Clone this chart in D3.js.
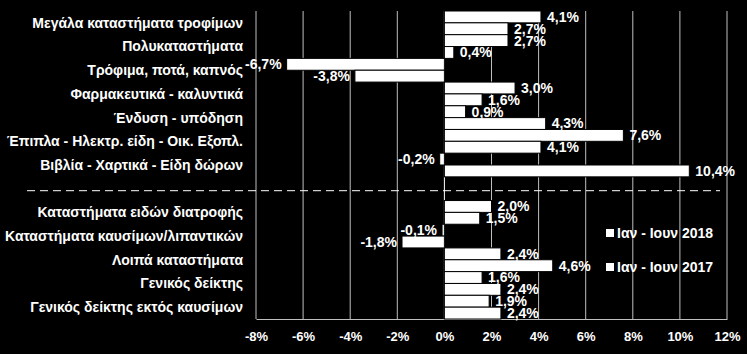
<!DOCTYPE html>
<meta charset="utf-8">
<head>
  <meta charset="UTF-8" />
  <title>Λιανικό εμπόριο</title>
  <script src="https://d3js.org/d3.v7.min.js"></script>
</head>
<style>
  body { margin: 0; background: #000; }
  text { font-family: "Liberation Sans", Arial, sans-serif; font-weight: bold; fill: #fff; }
</style>
<body>
<div id="chart"></div>
<script>
  // categories, "" is the empty slot under the dashed separator
  var categories = [
    "Μεγάλα καταστήματα τροφίμων",
    "Πολυκαταστήματα",
    "Τρόφιμα, ποτά, καπνός",
    "Φαρμακευτικά - καλυντικά",
    "Ένδυση - υπόδηση",
    "Έπιπλα - Ηλεκτρ. είδη - Οικ. Εξοπλ.",
    "Βιβλία - Χαρτικά - Είδη δώρων",
    "",
    "Καταστήματα ειδών διατροφής",
    "Καταστήματα καυσίμων/λιπαντικών",
    "Λοιπά καταστήματα",
    "Γενικός δείκτης",
    "Γενικός δείκτης εκτός καυσίμων"
  ]
  var series = ["Ιαν - Ιουν 2018", "Ιαν - Ιουν 2017"]
  var values2018 = [4.1, 2.7, -6.7, 3.0, 0.9, 7.6, -0.2, null, 2.0, -0.1, 2.4, 1.6, 1.9]
  var values2017 = [2.7, 0.4, -3.8, 1.6, 4.3, 4.1, 10.4, null, 1.5, -1.8, 4.6, 2.4, 2.4]
  var ticks = [-8, -6, -4, -2, 0, 2, 4, 6, 8, 10, 12]

  var width = 747, height = 354
  var margin = {top: 11, right: 20, bottom: 35, left: 256}

  var svg = d3.select("#chart").append("svg")
    .attr("width", width)
    .attr("height", height)

  var x = d3.scaleLinear().domain([-8, 12]).range([margin.left, 727])
  var y = d3.scaleBand().domain(d3.range(categories.length)).range([margin.top, height - margin.bottom]).padding(0)
  var ySub = d3.scaleBand().domain(series).range([0, y.bandwidth()])

  // gridlines
  svg.append("g")
    .selectAll("line")
    .data(ticks)
    .join("line")
      .attr("x1", d => x(d))
      .attr("x2", d => x(d))
      .attr("y1", margin.top)
      .attr("y2", height - margin.bottom)
      .attr("stroke", d => d == 0 ? "#ffffff" : "#bfbfbf")
      .attr("stroke-width", 1)

  // bottom axis
  var xAxis = svg.append("g")
    .attr("transform", "translate(0," + (height - margin.bottom) + ")")
    .call(d3.axisBottom(x).tickValues(ticks).tickSize(0).tickPadding(13).tickFormat(d => d + "%"))
  xAxis.select(".domain").attr("stroke", "#bfbfbf")
  xAxis.selectAll("text").style("font-size", "13px").attr("fill", "#fff")

  // dashed separator in the empty slot
  svg.append("line")
    .attr("x1", 27)
    .attr("x2", 720)
    .attr("y1", y(7) + y.bandwidth() / 2 + 2)
    .attr("y2", y(7) + y.bandwidth() / 2 + 2)
    .attr("stroke", "#fff")
    .attr("stroke-width", 1)
    .attr("stroke-dasharray", "8,5")

  var rows = []
  categories.forEach((c, i) => {
    if (values2018[i] != null) rows.push({i: i, s: series[0], v: values2018[i]})
    if (values2017[i] != null) rows.push({i: i, s: series[1], v: values2017[i]})
  })

  svg.append("g")
    .selectAll("rect")
    .data(rows)
    .join("rect")
      .attr("x", d => x(Math.min(0, d.v)))
      .attr("y", d => y(d.i) + ySub(d.s))
      .attr("width", d => Math.abs(x(d.v) - x(0)))
      .attr("height", ySub.bandwidth())
      .attr("fill", "#fff")
      .attr("stroke", "#000")
      .attr("stroke-width", 1)

  var fmt = d => d.toFixed(1).replace(".", ",") + "%"

  svg.append("g")
    .selectAll("text")
    .data(rows)
    .join("text")
      .attr("x", d => d.v < 0 ? x(d.v) - 5 : x(d.v) + 6)
      .attr("y", d => y(d.i) + ySub(d.s) + ySub.bandwidth() / 2)
      .attr("dy", "0.35em")
      .attr("text-anchor", d => d.v < 0 ? "end" : "start")
      .style("font-size", "14px")
      .text(d => fmt(d.v))

  // category labels
  svg.append("g")
    .selectAll("text")
    .data(categories)
    .join("text")
      .attr("x", 243)
      .attr("y", (d, i) => y(i) + y.bandwidth() / 2)
      .attr("dy", "0.35em")
      .attr("text-anchor", "end")
      .style("font-size", "14px")
      .text(d => d)

  // legend
  var legend = svg.append("g")
    .selectAll("g")
    .data(series)
    .join("g")
      .attr("transform", (d, i) => "translate(606," + (233 + i * 34) + ")")
  legend.append("rect")
    .attr("x", 0).attr("y", -4)
    .attr("width", 8).attr("height", 8)
    .attr("fill", "#fff")
  legend.append("text")
    .attr("x", 11)
    .attr("dy", "0.35em")
    .style("font-size", "14px")
    .text(d => d)
</script>
</body>
